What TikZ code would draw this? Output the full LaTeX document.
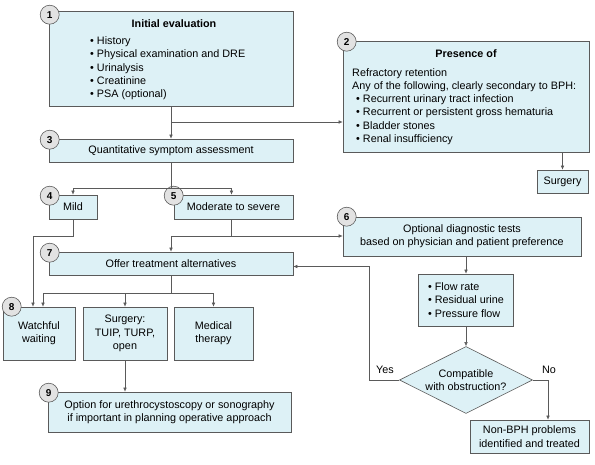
\documentclass[tikz,border=0pt]{standalone}
\usepackage{fontspec}
\setmainfont{Liberation Sans}
\usetikzlibrary{shapes.geometric,arrows.meta}
\definecolor{boxfill}{HTML}{DDF1F6}
\definecolor{numfill}{HTML}{E2E2E2}
\definecolor{edge}{HTML}{5A5A5A}

\begin{document}
\begin{tikzpicture}[x=1pt,y=-1pt,
    font=\fontsize{10.8}{13.3}\selectfont,
    box/.style={draw=edge, fill=boxfill, line width=0.6pt, inner sep=0pt, align=center},
    num/.style={circle, draw=edge, fill=numfill, line width=0.6pt, minimum size=19pt, inner sep=0pt, font=\fontsize{10}{11}\selectfont\bfseries},
    arr/.style={-{Latex[length=4pt,width=3.5pt]}, line width=0.55pt, draw=edge},
    line/.style={line width=0.55pt, draw=edge}]
    \fill[white] (0,0) rectangle (595,465);
    \useasboundingbox (0,0) rectangle (595,465);

    % Initial evaluation
    \node[box, minimum width=244pt, minimum height=95pt] (init) at (171,58.5) {};
    \node[font=\fontsize{10.8}{13.3}\selectfont\bfseries] (initT) at (174,24) {Initial evaluation};
    \node[anchor=west, align=left, inner sep=0pt] (initL) at (90,68.5)
        {• History\\• Physical examination and DRE\\• Urinalysis\\• Creatinine\\• PSA (optional)};
    \node[num] (n1) at (init.north west) [xshift=1pt, yshift=-4pt] {1};

    % Presence of
    \node[box, minimum width=246pt, minimum height=111pt] (pres) at (466,96.5) {};
    \node[font=\fontsize{10.8}{13.3}\selectfont\bfseries] (presT) at (466,54) {Presence of};
    \node[anchor=west, align=left, inner sep=0pt] (presL) at (352,106.5)
        {Refractory retention\\Any of the following, clearly secondary to BPH:\\
         \hspace{4pt}• Recurrent urinary tract infection\\\hspace{4pt}• Recurrent or persistent gross hematuria\\
         \hspace{4pt}• Bladder stones\\\hspace{4pt}• Renal insufficiency};
    \node[num] (n2) at (pres.north west) [xshift=4pt, yshift=-1pt] {2};
    \node[box, minimum width=51pt, minimum height=23pt] (surgA) at (562.5,181.5) {Surgery};

    % Symptom assessment
    \node[box, minimum width=244pt, minimum height=23pt] (quant) at (171,150.5) {Quantitative symptom assessment};
    \node[num] (n3) at (quant.north west) [xshift=1pt, yshift=-1pt] {3};
    \node[box, minimum width=48pt, minimum height=24pt] (mild) at (73,207) {Mild};
    \node[num] (n4) at (mild.north west) [xshift=1pt, yshift=-1pt] {4};
    \node[box, minimum width=119pt, minimum height=24pt] (mod) at (233.5,207) {Moderate to severe};
    \node[num] (n5) at (mod.north west) [xshift=0pt, yshift=-1pt] {5};

    % Optional tests
    \node[box, minimum width=238pt, minimum height=39pt] (opt) at (462,236.5)
        {Optional diagnostic tests\\based on physician and patient preference};
    \node[num] (n6) at (opt.north west) [xshift=4pt, yshift=0pt] {6};
    \node[box, minimum width=95pt, minimum height=52pt, align=left] (flow) at (466,300)
        {• Flow rate\\• Residual urine\\• Pressure flow};
    \node[box, diamond, aspect=2, minimum width=133pt, minimum height=67pt, inner sep=-2pt] (compat) at (466,380)
        {Compatible\\with obstruction?};
    \node[box, minimum width=119pt, minimum height=33pt] (nonbph) at (529.5,436.5)
        {Non-BPH problems\\identified and treated};

    % Treatment
    \node[box, minimum width=244pt, minimum height=23pt] (offer) at (171,263.5) {Offer treatment alternatives};
    \node[num] (n7) at (offer.north west) [xshift=1pt, yshift=-1pt] {7};
    \node[box, minimum width=72pt, minimum height=53pt] (watch) at (39,333.5) {Watchful\\waiting};
    \node[num] (n8) at (watch.north west) [xshift=9pt, yshift=0pt] {8};
    \node[box, minimum width=84pt, minimum height=53pt] (surgB) at (125,333.5) {Surgery:\\TUIP, TURP,\\open};
    \node[box, minimum width=79pt, minimum height=53pt] (med) at (213.5,333.5) {Medical\\therapy};
    \node[box, minimum width=243pt, minimum height=40pt] (uro) at (169.5,412)
        {Option for urethrocystoscopy or sonography\\if important in planning operative approach};
    \node[num] (n9) at (uro.north west) [xshift=1pt, yshift=-1pt] {9};

    % Connectors
    \coordinate (j1) at (171,122);
    \draw[arr] (init.south) -- (quant.north);
    \draw[arr] (j1) -- (j1 -| pres.west);
    \draw[arr] (surgA.north |- pres.south) -- (surgA.north);
    \coordinate (j2) at (171,188);
    \draw[line] (quant.south) -- (j2);
    \draw[arr] (j2) -| (mild.north);
    \draw[arr] (j2) -| ([xshift=-2pt]mod.north);
    \coordinate (j3) at (231.5,236);
    \draw[line] ([xshift=-2pt]mod.south) -- (j3);
    \draw[arr] (j3) -- (j3 -| opt.west);
    \draw[arr] (j3) -| (offer.north);
    \draw[arr] (mild.south) -- (73,236) -| ([xshift=-6pt]watch.north);
    \coordinate (j4) at (171,293);
    \draw[line] (offer.south) -- (j4);
    \draw[arr] (j4) -| ([xshift=4pt]watch.north);
    \draw[arr] (j4) -| (surgB.north);
    \draw[arr] (j4) -| (med.north);
    \draw[arr] (surgB.south) -- (surgB.south |- uro.north);
    \draw[arr] (flow.north |- opt.south) -- (flow.north);
    \draw[arr] (flow.south) -- (compat.north);
    \coordinate (yesc) at (369,380);
    \draw[arr] (compat.west) -- (yesc) |- ([yshift=-3pt]offer.east);
    \coordinate (noc) at (548,380);
    \draw[arr] (compat.east) -- (noc) -- (noc |- nonbph.north);
    \node (yesL) at (385,370) {Yes};
    \node (noL) at (549,370) {No};
\end{tikzpicture}
\end{document}
